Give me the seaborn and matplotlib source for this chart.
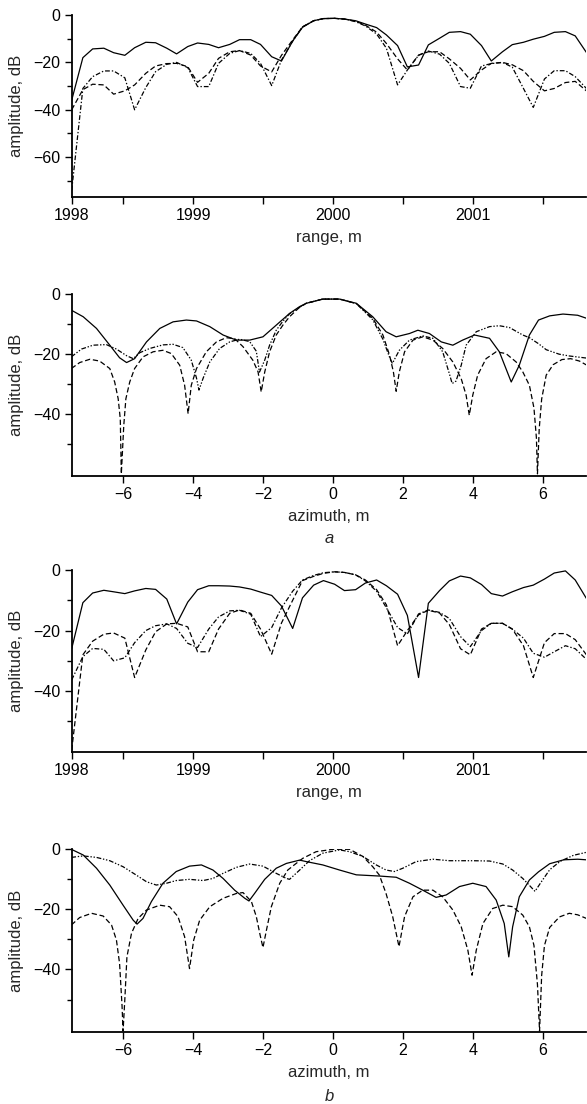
import matplotlib
matplotlib.use("Agg")
import matplotlib.pyplot as plt
import pandas as pd
import seaborn as sns

# range samples (m), shared by the two range panels
range_x = [1998.13, 1998.21, 1998.28, 1998.36, 1998.43, 1998.51, 1998.58, 1998.66, 1998.73, 1998.81,
           1998.88, 1998.96, 1999.03, 1999.11, 1999.18, 1999.26, 1999.33, 1999.41, 1999.48, 1999.56,
           1999.63, 1999.71, 1999.78, 1999.86, 1999.93, 2000.01, 2000.08, 2000.16, 2000.23, 2000.31,
           2000.38, 2000.46, 2000.53, 2000.61, 2000.68, 2000.76, 2000.83, 2000.91, 2000.98, 2001.06,
           2001.13, 2001.21, 2001.28, 2001.36, 2001.43, 2001.51, 2001.58, 2001.66, 2001.73, 2001.81]

# panel a, range cut
r1_solid = [-36, -18.0, -14.3, -14.0, -15.9, -17.0, -13.8, -11.5, -11.7, -14.0,
            -16.4, -13.3, -11.8, -12.4, -13.8, -12.4, -10.4, -10.4, -12.4, -17.6,
            -19.4, -11, -5.2, -2.4, -1.5, -1.4, -1.7, -2.4, -3.8, -5.3,
            -8.4, -12.9, -21.9, -21.1, -12.6, -9.8, -7.3, -7.0, -8.1, -12.9,
            -19.4, -15.5, -12.5, -11.5, -10.2, -9.0, -7.3, -7.0, -8.8, -15.8]
r1_dashed = [-40, -31.5, -29.2, -29.5, -33.4, -32, -29.5, -24.6, -21.5, -20.5,
             -20.4, -21.8, -28.4, -24.6, -18.3, -15.5, -15.0, -16.9, -21.5, -24.0,
             -17, -10.5, -5, -2.4, -1.5, -1.4, -1.7, -2.6, -4.3, -7.2,
             -12, -18.5, -23.2, -16.9, -15.5, -15.5, -18.5, -22.5, -27.4, -23.2,
             -20.4, -20, -21, -23.5, -28, -32, -31, -28.5, -28, -32]
r1_dashdot = [-74, -31, -26, -23.6, -23.6, -26.5, -40, -30.6, -23.9, -20.8,
              -20, -22.2, -30.2, -30.2, -20.4, -16.2, -15, -16.2, -20.4, -29.8,
              -19, -11, -5, -2.4, -1.5, -1.4, -1.7, -2.8, -4.6, -8,
              -14, -29.5, -23.2, -17, -15.2, -16.5, -20.4, -30.2, -30.9, -21.5,
              -20.5, -20, -22, -31, -39, -27, -23.5, -23.5, -26, -31]

# panel a, azimuth cut
a1_solid_x = [-7.48, -7.14, -6.76, -6.38, -6.10, -5.90, -5.67, -5.33, -4.95, -4.57,
              -4.19, -3.90, -3.52, -3.14, -2.76, -2.38, -2.00, -1.62, -1.24, -0.95,
              -0.76, -0.29, 0.19, 0.67, 1.14, 1.52, 1.81, 2.19, 2.43, 2.76,
              3.10, 3.43, 3.71, 4.05, 4.48, 4.76, 5.10, 5.33, 5.62, 5.88,
              6.20, 6.58, 7.00, 7.25]
a1_solid_y = [-5.3, -7.5, -11.4, -17, -21.2, -22.8, -21.5, -15.9, -11.4, -9.2,
              -8.6, -8.9, -10.8, -13.6, -15.3, -15.3, -14.2, -10.3, -6.4, -4.1,
              -3.0, -1.6, -1.6, -3.0, -7.5, -12.5, -14.2, -13.1, -12, -13.1,
              -15.9, -17, -15.3, -13.6, -14.7, -19.2, -29.3, -23.7, -13.6, -8.6,
              -7.2, -6.6, -7, -8]
a1_dashed_x = [-7.48, -7.24, -6.95, -6.67, -6.38, -6.24, -6.14, -6.08, -6.05, -5.98,
               -5.92, -5.81, -5.67, -5.43, -5.14, -4.86, -4.62, -4.38, -4.24, -4.14,
               -4.05, -3.90, -3.62, -3.33, -3.05, -2.81, -2.57, -2.29, -2.14, -2.05,
               -1.95, -1.81, -1.62, -1.43, -1.24, -0.95, -0.76, -0.29, 0.19, 0.67,
               1.14, 1.43, 1.62, 1.73, 1.81, 1.90, 2.05, 2.29, 2.57, 2.86,
               3.14, 3.43, 3.67, 3.81, 3.90, 4.00, 4.14, 4.38, 4.67, 4.95,
               5.24, 5.43, 5.62, 5.75, 5.82, 5.85, 5.90, 5.97, 6.10, 6.30,
               6.55, 6.80, 7.05, 7.25]
a1_dashed_y = [-24.8, -22.8, -21.7, -22.3, -24.8, -29.3, -34.9, -41.6, -60, -43.8,
               -34.9, -29.3, -24.8, -20.9, -19.2, -18.7, -19.8, -23.7, -30.4, -39.9,
               -30.4, -24.8, -19.2, -15.9, -14.5, -14.8, -17.5, -22, -25.9, -32.6,
               -26, -19.2, -13.6, -10.3, -7.5, -4.3, -3.0, -1.6, -1.6, -3.1,
               -8, -13.6, -20.3, -25.9, -32.4, -25.9, -19.2, -15.3, -14.2, -15.3,
               -18.1, -22.6, -28.2, -33.7, -40.4, -33.7, -27, -21.5, -19.2, -19.8,
               -22.6, -25.9, -30.4, -38, -48, -60, -45, -35, -27, -23.5,
               -21.8, -21.5, -22.3, -23.6]
a1_dashdot_x = [-7.48, -7.19, -6.86, -6.48, -6.19, -5.90, -5.71, -5.52, -5.24, -4.86,
                -4.57, -4.29, -4.05, -3.90, -3.83, -3.71, -3.52, -3.24, -2.95, -2.67,
                -2.38, -2.19, -2.10, -1.95, -1.81, -1.62, -1.43, -1.24, -0.95, -0.76,
                -0.29, 0.19, 0.67, 1.14, 1.43, 1.62, 1.70, 1.90, 2.19, 2.57,
                2.86, 3.14, 3.33, 3.41, 3.52, 3.67, 3.81, 4.10, 4.48, 4.76,
                5.05, 5.43, 5.62, 5.88, 6.10, 6.47, 6.76, 7.25]
a1_dashdot_y = [-20.9, -18.3, -17, -16.8, -18.3, -20.5, -21.5, -19.5, -18.1, -16.9,
                -16.7, -17.8, -22, -28, -32, -28, -22.6, -18.1, -15.9, -15.0,
                -15.8, -19, -26, -22, -17, -12, -9, -6.5, -4.3, -3.0,
                -1.6, -1.6, -3.1, -8.5, -15, -21, -23.1, -18.7, -15.3, -13.9,
                -14.7, -19.2, -26.5, -29.8, -29, -23.7, -17, -12.5, -10.8, -10.5,
                -11.1, -13.6, -14.5, -16.5, -18.5, -20, -20.6, -21.3]

# panel b, range cut
r2_solid = [-26, -10.8, -7.6, -6.7, -7.2, -7.8, -6.9, -6.1, -6.4, -9.6,
            -17.8, -10.6, -6.5, -5.2, -5.2, -5.3, -5.6, -6.3, -7.3, -8.4,
            -11.9, -19.3, -9.2, -5, -3.5, -4.7, -6.8, -6.5, -4.3, -3.3,
            -5.2, -8, -15, -35.5, -11, -6.8, -3.6, -2.0, -2.6, -4.8,
            -7.8, -8.6, -7.2, -5.8, -5.0, -3, -1.0, -0.3, -3.3, -9.4]
r2_dashed = [-59.5, -28, -23.5, -21.2, -20.8, -22.5, -35.5, -26.4, -20.4, -17.8,
             -17.6, -18.8, -27, -27, -19.5, -14.3, -13.2, -14.3, -19.5, -27.8,
             -17.5, -10, -3.5, -2.1, -1.1, -0.6, -0.8, -1.6, -3.3, -6.5,
             -11.5, -25, -20, -14.8, -13.3, -14.2, -18, -26, -28, -19.5,
             -17.6, -17.6, -19.5, -25, -35.5, -24, -21, -21, -23, -28]
r2_dashdot = [-36.3, -28.6, -25.9, -26.2, -30, -29, -24, -20, -18.4, -17.8,
              -19.3, -24.2, -25.6, -19.5, -15.5, -13.5, -13.3, -14.6, -22, -19,
              -12.5, -7, -3.3, -1.8, -0.9, -0.6, -0.8, -1.6, -3.6, -7,
              -12.5, -19, -21.1, -14.5, -13.2, -14, -16, -22, -25.3, -20,
              -17.6, -17.6, -19.5, -22.5, -27.5, -28.8, -27, -25, -26, -29.5]

# panel b, azimuth cut
a2_solid_x = [-7.48, -7.14, -6.76, -6.38, -6.00, -5.71, -5.60, -5.43, -5.19, -4.86,
              -4.48, -4.10, -3.76, -3.43, -3.14, -2.81, -2.52, -2.40, -2.24, -1.95,
              -1.62, -1.33, -0.95, -0.76, -0.29, 0.19, 0.67, 1.33, 1.81, 2.19,
              2.57, 2.95, 3.24, 3.62, 4.00, 4.38, 4.67, 4.90, 5.03, 5.14,
              5.33, 5.62, 5.88, 6.20, 6.60, 7.00, 7.25]
a2_solid_y = [0, -1.9, -6.3, -11.9, -18.6, -23.6, -24.9, -23, -17.4, -11.3,
              -7.4, -5.6, -5.2, -6.9, -9.7, -13.6, -16.3, -17.2, -14.7, -10,
              -6.3, -4.7, -3.6, -4.1, -5.2, -6.9, -8.5, -8.9, -9.3, -11.3,
              -13.6, -16, -15.2, -12.4, -11.3, -12.4, -16.9, -24.7, -35.8, -25.8,
              -15.8, -10.2, -7.5, -4.8, -3.5, -3.3, -3.5]
a2_dashed_x = [-7.48, -7.24, -6.90, -6.57, -6.33, -6.19, -6.10, -6.03, -6.00, -5.95,
               -5.89, -5.76, -5.57, -5.33, -4.95, -4.67, -4.43, -4.24, -4.10, -3.98,
               -3.81, -3.52, -3.14, -2.76, -2.57, -2.33, -2.19, -2.08, -2.00, -1.90,
               -1.76, -1.52, -1.29, -1.05, -0.86, -0.48, 0.00, 0.48, 0.86, 1.14,
               1.33, 1.52, 1.71, 1.89, 2.05, 2.29, 2.57, 2.86, 3.14, 3.43,
               3.67, 3.86, 3.98, 4.10, 4.29, 4.57, 4.86, 5.14, 5.43, 5.62,
               5.75, 5.85, 5.91, 5.97, 6.05, 6.20, 6.48, 6.76, 7.00, 7.25]
a2_dashed_y = [-25.2, -22.7, -21.3, -22.2, -25.2, -30.2, -38, -52, -60.5, -50,
               -35.8, -28, -23, -20.2, -18.6, -19.1, -22.4, -29.1, -39.7, -30.2,
               -23.6, -19.1, -16.3, -14.7, -14.4, -17.4, -22.4, -28.6, -32.7, -26.9,
               -19.1, -11.3, -6.9, -4.7, -3, -0.8, 0, 0, -2.4, -5.8,
               -8.6, -14.7, -22.4, -32.4, -22.4, -15.8, -13.6, -13.6, -15.8, -20.2,
               -25.8, -33.6, -41.9, -33.6, -24.7, -19.7, -18.6, -19.1, -21.9, -25.8,
               -32, -45, -60.5, -42, -32, -26, -22.5, -21.3, -21.8, -23]
a2_dashdot_x = [-7.48, -7.14, -6.76, -6.38, -6.00, -5.62, -5.33, -5.05, -4.76, -4.48,
                -4.10, -3.71, -3.43, -3.14, -2.76, -2.38, -2.00, -1.62, -1.33, -1.24,
                -0.95, -0.67, -0.29, 0.19, 0.48, 0.86, 1.24, 1.52, 1.76, 2.00,
                2.38, 2.86, 3.33, 4.00, 4.48, 4.86, 5.14, 5.43, 5.62, 5.78,
                5.95, 6.20, 6.50, 6.88, 7.25]
a2_dashdot_y = [-2.7, -2.2, -2.7, -3.8, -5.8, -8.6, -10.8, -11.9, -11.3, -10.4,
                -10, -10.4, -9.7, -8, -6, -4.9, -5.6, -8, -9.7, -10,
                -6.9, -3.8, -1.3, -0.2, -0.8, -2.4, -5.2, -6.9, -7.4, -6.3,
                -4.1, -3.3, -3.8, -3.8, -3.9, -4.9, -6.9, -9.7, -12, -14,
                -11, -6.8, -4, -2, -1]

range_ticks = [1998.13, 1999, 2000, 2001]
range_labels = ["1998", "1999", "2000", "2001"]
az_ticks = [-6, -4, -2, 0, 2, 4, 6]

sns.set_theme(style="ticks")
plt.rcParams["font.family"] = ["Liberation Sans", "DejaVu Sans"]


def frame(xs, ys):
    parts = []
    for name, (x, y) in zip(["solid", "dashed", "dashdot"], zip(xs, ys)):
        parts.append(pd.DataFrame({"x": x, "y": y, "curve": name}))
    return pd.concat(parts, ignore_index=True)


def draw(ax, df, dashdot):
    dash_map = {"solid": "", "dashed": (4.2, 2.2), "dashdot": dashdot}
    sns.lineplot(data=df, x="x", y="y", style="curve", dashes=dash_map, color="black",
                 linewidth=0.9, estimator=None, sort=False, legend=False, ax=ax)
    sns.despine(ax=ax)
    for s in ["left", "bottom"]:
        ax.spines[s].set_linewidth(1.3)
        ax.spines[s].set_color("black")
    ax.tick_params(which="both", direction="out", colors="black", width=1.0,
                   labelsize=11.5, pad=3)
    ax.tick_params(which="major", length=5)
    ax.tick_params(axis="y", which="minor", length=3.5)
    ax.set_ylabel("amplitude, dB", fontsize=12)
    ax.yaxis.set_label_coords(-0.093, 0.5)


left, width = 0.1221, 0.8769
boxes = [(0.8218, 0.16458), (0.56911, 0.16431), (0.31911, 0.16459), (0.06549, 0.16522)]
ylims = [-76.7, -60.6, -60.0, -60.7]

fig = plt.figure(figsize=(5.87, 11.04), dpi=100)
axs = [fig.add_axes([left, b, width, h]) for b, h in boxes]

panels = [
    (frame([range_x] * 3, [r1_solid, r1_dashed, r1_dashdot]), "range"),
    (frame([a1_solid_x, a1_dashed_x, a1_dashdot_x], [a1_solid_y, a1_dashed_y, a1_dashdot_y]), "az"),
    (frame([range_x] * 3, [r2_solid, r2_dashed, r2_dashdot]), "range"),
    (frame([a2_solid_x, a2_dashed_x, a2_dashdot_x], [a2_solid_y, a2_dashed_y, a2_dashdot_y]), "az"),
]

for ax, (df, kind), ylo in zip(axs, panels, ylims):
    if kind == "range":
        draw(ax, df, (3.8, 1.6, 1.1, 1.6))
        ax.set_xlim(1998.13, 2001.81)
        ax.set_xticks(range_ticks)
        ax.set_xticklabels(range_labels)
        ax.set_xticks([1998.5, 1999.5, 2000.5, 2001.5], minor=True)
        ax.tick_params(axis="x", which="minor", length=5)
        ax.set_xlabel("range, m", fontsize=12)
    else:
        draw(ax, df, (3.8, 1.4, 1.1, 1.4, 1.1, 1.4))
        ax.set_xlim(-7.47, 7.25)
        ax.set_xticks(az_ticks)
        ax.set_xlabel("azimuth, m", fontsize=12)
    ax.xaxis.set_label_coords(0.5, -0.185)
    ax.set_ylim(ylo, 0)
    if ylo < -70:
        ax.set_yticks([0, -20, -40, -60])
        ax.set_yticks([-10, -30, -50, -70], minor=True)
    else:
        ax.set_yticks([0, -20, -40])
        ax.set_yticks([-10, -30, -50], minor=True)

fig.text(0.561, 0.512, "a", fontsize=12, style="italic", ha="center", va="center")
fig.text(0.561, 0.0066, "b", fontsize=12, style="italic", ha="center", va="center")

fig.savefig("out.png", dpi=100, facecolor="white")
